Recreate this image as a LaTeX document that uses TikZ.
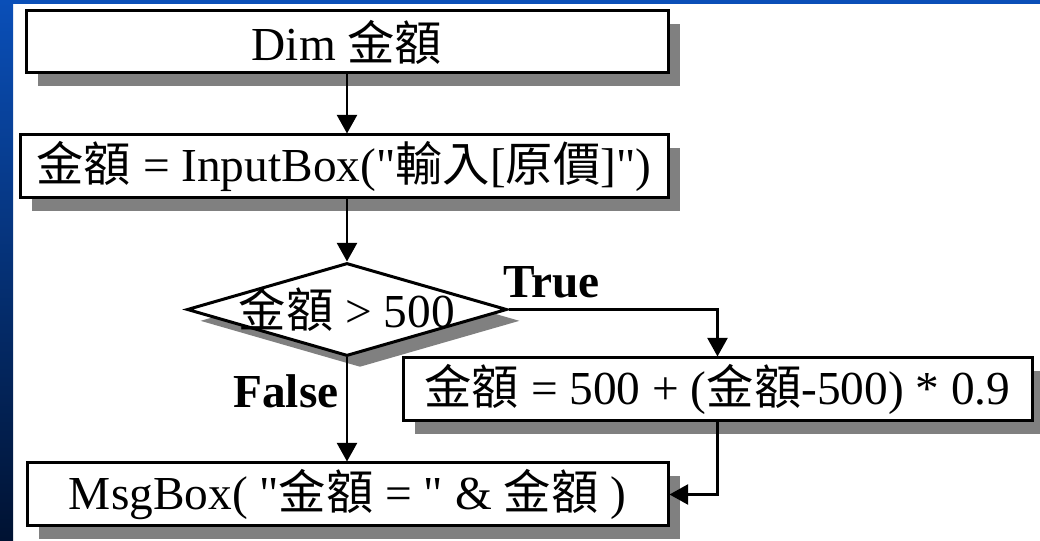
\documentclass[tikz,border=0pt]{standalone}
\usepackage{fontspec}
\setmainfont{Liberation Serif}[Ligatures=TeXOff]
\newfontfamily\cjk{Noto Sans CJK TC}
\newcommand\J[1]{{\cjk #1}}
\usetikzlibrary{shapes.geometric,arrows.meta,shadows}
\definecolor{shgray}{HTML}{808080}
\definecolor{stripblue}{HTML}{0A4FB8}
\definecolor{stripdark}{HTML}{001232}
\tikzset{
  flowbox/.style={draw=black, line width=2.25pt, fill=white, rectangle, inner sep=0pt,
    drop shadow={shadow xshift=9pt, shadow yshift=-9.75pt, fill=shgray, opacity=1}},
  flowdiam/.style={draw=black, line width=2.25pt, fill=white, diamond, inner sep=0pt,
    drop shadow={shadow xshift=9.75pt, shadow yshift=-8.5pt, fill=shgray, opacity=1}},
  txt/.style={font=\fontsize{35.5}{40}\selectfont, inner sep=0pt},
  lbl/.style={font=\fontsize{35.5}{40}\selectfont\bfseries, inner sep=0pt},
  conn/.style={line width=2pt, -{Triangle[length=14pt,width=15pt]}},
}
\begin{document}
\begin{tikzpicture}[x=0.75pt, y=-0.75pt]
\useasboundingbox (0,0) rectangle (1040,541);
\fill[white] (0,0) rectangle (1040,541);
% background strips
\shade[top color=stripblue, bottom color=stripdark] (0,0) rectangle (13,541);
\fill[stripblue] (0,0) rectangle (1040,4);

% boxes
\node[flowbox, minimum width=481.5pt, minimum height=46.5pt] (b1) at (347,42) {};
\node[txt] (t1) at (b1) {Dim \J{金額}};

\node[flowbox, minimum width=486pt, minimum height=47.25pt] (b2) at (344,166.5) {};
\node[txt] (t2) at (b2) {\J{金額} = InputBox("\J{輸入}[\J{原價}]")};

\node[flowdiam, minimum width=240pt, minimum height=69.75pt] (d) at (347,309.5) {};
\node[txt] (td) at (d) {\J{金額} > 500};

\node[flowbox, minimum width=471.75pt, minimum height=47.25pt] (b3) at (717.5,389.5) {};
\node[txt] (t3) at (b3) {\J{金額} = 500 + (\J{金額}-500) * 0.9};

\node[flowbox, minimum width=480.75pt, minimum height=47.25pt] (b4) at (347.5,494.5) {};
\node[txt] (t4) at (b4) {MsgBox( "\J{金額} = " \& \J{金額} )};

% labels
\node[lbl, anchor=base west] (lt) at (503,298) {True};
\node[lbl, anchor=base west] (lf) at (233,408) {False};

% connectors
\draw[conn] (b1.south) -- (b1.south |- b2.north);
\draw[conn] (d.north |- b2.south) -- (d.north);
\draw[conn] (d.east) -| (b3.north);
\draw[conn] (d.south) -- (d.south |- b4.north);
\draw[conn] (b3.south) |- (b4.east);
\end{tikzpicture}
\end{document}
